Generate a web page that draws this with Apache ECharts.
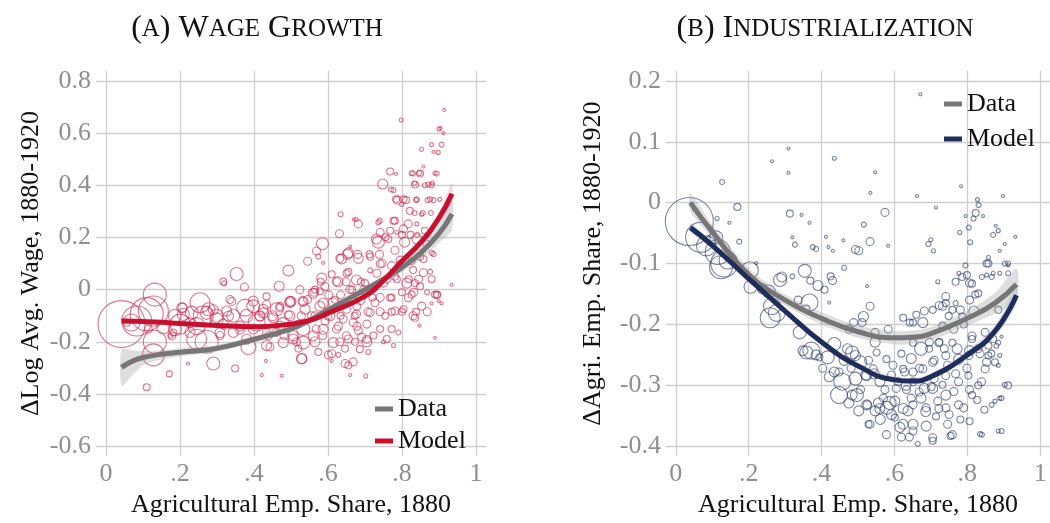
<!DOCTYPE html>
<html><head><meta charset="utf-8">
<script src="https://cdn.jsdelivr.net/npm/echarts@6/dist/echarts.min.js"></script>
<style>html,body{margin:0;padding:0;background:#fff}#c{width:1050px;height:523px}</style>
</head><body><div id="c"></div>
<script>
// ---------- tick values and labels ----------
const xTicks = [0, 0.2, 0.4, 0.6, 0.8, 1];
const xTickLabels = ['0', '.2', '.4', '.6', '.8', '1'];
const yTicksA = [-0.6, -0.4, -0.2, 0, 0.2, 0.4, 0.6, 0.8];
const yTickLabelsA = ['-0.6', '-0.4', '-0.2', '0', '0.2', '0.4', '0.6', '0.8'];
const yTicksB = [-0.4, -0.3, -0.2, -0.1, 0, 0.1, 0.2];
const yTickLabelsB = ['-0.4', '-0.3', '-0.2', '-0.1', '0', '0.1', '0.2'];

// ---------- panel A fitted curves ----------
const curveXA = [0.042, 0.07, 0.1, 0.15, 0.2, 0.3, 0.4, 0.5, 0.55, 0.6, 0.7, 0.75, 0.8, 0.85, 0.9, 0.935];
const dataA   = [-0.298, -0.275, -0.26, -0.248, -0.24, -0.225, -0.19, -0.15, -0.118, -0.078, 0.0, 0.04, 0.085, 0.14, 0.215, 0.29];
const dataALo = [-0.37, -0.33, -0.29, -0.268, -0.256, -0.238, -0.202, -0.162, -0.13, -0.09, -0.013, 0.025, 0.068, 0.115, 0.18, 0.23];
const dataAHi = [-0.23, -0.232, -0.235, -0.232, -0.225, -0.212, -0.178, -0.138, -0.106, -0.066, 0.013, 0.055, 0.102, 0.165, 0.25, 0.35];
const modelA   = [-0.12, -0.121, -0.122, -0.125, -0.13, -0.137, -0.142, -0.132, -0.118, -0.09, -0.025, 0.035, 0.11, 0.18, 0.275, 0.368];
const modelALo = [-0.13, -0.129, -0.129, -0.131, -0.136, -0.142, -0.147, -0.137, -0.123, -0.095, -0.03, 0.028, 0.1, 0.165, 0.255, 0.33];
const modelAHi = [-0.11, -0.113, -0.115, -0.119, -0.124, -0.132, -0.137, -0.127, -0.113, -0.085, -0.02, 0.042, 0.12, 0.195, 0.295, 0.41];

// ---------- panel B fitted curves ----------
const curveXB = [0.04, 0.1, 0.2, 0.3, 0.4, 0.5, 0.6, 0.65, 0.7, 0.8, 0.876, 0.935];
const dataB   = [0.0, -0.048, -0.118, -0.16, -0.19, -0.212, -0.222, -0.221, -0.215, -0.19, -0.165, -0.134];
const dataBLo = [-0.014, -0.058, -0.127, -0.169, -0.2, -0.222, -0.233, -0.232, -0.226, -0.202, -0.182, -0.16];
const dataBHi = [0.015, -0.036, -0.108, -0.151, -0.18, -0.202, -0.211, -0.21, -0.204, -0.178, -0.148, -0.108];
const modelB   = [-0.041, -0.07, -0.125, -0.178, -0.229, -0.268, -0.291, -0.293, -0.286, -0.25, -0.211, -0.152];
const modelBLo = [-0.048, -0.076, -0.13, -0.183, -0.234, -0.273, -0.296, -0.298, -0.292, -0.257, -0.221, -0.168];
const modelBHi = [-0.034, -0.064, -0.12, -0.173, -0.224, -0.263, -0.286, -0.288, -0.28, -0.243, -0.201, -0.136];

// ---------- panel A counties: [agri share, dlog wage, bubble size] ----------
const ptsA = [
[0.042,-0.132,47],[0.083,-0.12,30],[0.11,-0.094,33],[0.132,-0.019,23],[0.128,-0.082,30],[0.128,-0.25,22],
[0.132,-0.2,23],[0.11,-0.374,7],[0.171,-0.323,6],[0.175,-0.176,5],[0.2,-0.132,20],[0.207,-0.069,9],
[0.222,-0.283,3],[0.254,-0.05,20],[0.245,-0.19,20],[0.272,-0.2,23],[0.263,-0.1,20],[0.29,-0.283,13],
[0.277,-0.075,13],[0.317,0.031,7],[0.353,0.06,13],[0.374,0.01,8],[0.335,-0.038,8],[0.344,-0.1,13],
[0.349,-0.302,7],[0.376,-0.069,17],[0.385,-0.22,15],[0.398,-0.044,10],[0.407,-0.126,17],[0.421,-0.327,3],
[0.432,-0.273,3],[0.434,-0.214,10],[0.425,-0.075,10],[0.461,-0.075,13],[0.468,0.013,10],[0.475,-0.33,3],
[0.493,0.073,11],[0.479,-0.132,13],[0.497,-0.1,10],[0.506,-0.189,10],[0.529,-0.264,10],[0.533,-0.151,13],
[0.545,0.109,8],[0.565,0.0,7],[0.569,0.148,8],[0.585,0.176,12],[0.583,0.044,10],[0.578,-0.063,10],
[0.565,-0.2,10],[0.601,-0.25,8],[0.61,-0.273,3],[0.605,-0.1,10],[0.631,0.214,8],[0.634,0.289,5],
[0.632,0.12,8],[0.65,0.063,7],[0.655,0.141,10],[0.646,-0.283,8],[0.66,-0.327,3],[0.67,0.27,3],
[0.682,0.252,8],[0.682,0.12,10],[0.668,-0.277,8],[0.702,-0.331,4],[0.709,-0.239,5],[0.705,-0.2,10],
[0.714,0.126,7],[0.736,0.258,5],[0.736,0.182,12],[0.748,0.405,10],[0.768,0.453,7],[0.77,0.384,5],
[0.784,0.444,3],[0.798,0.65,4],[0.784,0.346,7],[0.804,0.346,7],[0.777,0.264,7],[0.817,0.252,8],
[0.826,0.447,5],[0.835,0.403,7],[0.84,0.346,5],[0.853,0.538,4],[0.858,0.472,3],[0.847,0.447,5],
[0.871,0.403,5],[0.876,0.346,5],[0.88,0.556,4],[0.885,0.528,3],[0.898,0.526,4],[0.889,0.447,4],
[0.9,0.616,4],[0.907,0.556,5],[0.912,0.6,3],[0.914,0.689,3],[0.904,0.619,3],[0.882,0.409,4],
[0.902,0.346,4],[0.934,0.019,3],[0.889,-0.019,7],[0.899,-0.044,3],[0.889,-0.185,3],[0.853,-0.063,8],
[0.847,-0.138,3],[0.83,-0.1,8],[0.88,0.141,5],[0.876,0.069,5],[0.858,0.065,8],[0.849,0.013,7],
[0.817,-0.031,8],[0.813,0.025,10],[0.795,0.113,8],[0.807,0.182,10],[0.84,0.195,10],[0.849,0.126,7],
[0.83,0.075,7],[0.781,0.151,8],[0.781,0.05,7],[0.772,-0.031,7],[0.781,-0.082,8],[0.772,-0.151,7],
[0.759,-0.189,7],[0.75,0.025,8],[0.746,0.101,8],[0.732,0.063,8],[0.723,0.006,8],[0.727,-0.05,8],
[0.714,-0.088,8],[0.705,-0.132,8],[0.7,0.025,7],[0.687,-0.038,10],[0.677,-0.094,8],[0.682,-0.157,8],
[0.691,-0.182,8],[0.668,-0.126,8],[0.659,0.0,8],[0.65,-0.075,8],[0.641,-0.113,8],[0.655,-0.189,8],
[0.632,-0.2,8],[0.623,-0.151,8],[0.623,0.031,8],[0.614,-0.05,10],[0.592,-0.12,8],[0.586,-0.176,8],
[0.568,-0.151,8],[0.556,-0.1,8],[0.545,-0.038,8],[0.538,-0.075,10],[0.52,-0.132,8],[0.515,-0.2,8],
[0.497,-0.05,10],[0.481,-0.176,8],[0.459,-0.164,8],[0.45,-0.1,10],[0.443,-0.22,8],[0.434,-0.057,8],
[0.416,-0.1,10],[0.398,-0.151,10],[0.38,-0.1,13],[0.362,-0.151,10],[0.344,-0.164,10],[0.326,-0.082,10],
[0.317,-0.132,10],[0.308,-0.176,8],[0.299,-0.1,13],[0.232,-0.088,13],[0.227,-0.164,10],[0.186,-0.1,13],
[0.155,-0.145,13],[0.182,-0.164,7],[0.114,-0.151,8],[0.069,-0.126,17],[0.804,0.233,8],[0.821,0.302,7],
[0.768,0.226,7],[0.755,0.201,7],[0.835,0.025,7],[0.826,-0.019,7],[0.804,-0.075,7],[0.79,-0.164,5],
[0.741,-0.151,7],[0.755,-0.1,7],[0.723,-0.176,7],[0.673,-0.2,7],[0.646,-0.226,7],[0.628,-0.25,5],
[0.574,-0.239,7],[0.52,-0.226,7],[0.578,-0.006,7],[0.524,0.0,8],[0.777,-0.214,4],[0.75,-0.2,4],
[0.786,0.22,4],[0.862,0.226,7],[0.866,0.176,7],[0.799,0.327,4],[0.853,0.289,4],[0.84,0.252,4],
[0.676,0.269,4],[0.777,0.382,5],[0.83,0.445,5],[0.849,0.445,7],[0.894,0.445,5],[0.834,0.408,4],
[0.862,0.4,5],[0.88,0.4,5],[0.788,0.343,8],[0.811,0.343,7],[0.838,0.343,5],[0.869,0.343,5],
[0.885,0.343,5],[0.834,0.294,5],[0.856,0.294,5],[0.878,0.294,5],[0.781,0.264,7],[0.74,0.264,5],
[0.741,0.219,8],[0.731,0.194,10],[0.763,0.194,7],[0.8,0.21,7],[0.823,0.21,7],[0.841,0.21,5],
[0.868,0.21,5],[0.653,0.135,10],[0.68,0.135,8],[0.712,0.135,7],[0.739,0.135,8],[0.637,0.118,10],
[0.66,0.165,3],[0.587,0.103,3],[0.574,0.127,5],[0.61,0.059,7],[0.655,0.068,7],[0.677,0.037,10],
[0.714,0.074,5],[0.741,0.098,8],[0.772,0.092,8],[0.795,0.098,7],[0.826,0.11,7],[0.858,0.117,7],
[0.885,0.136,5],[0.759,0.04,8],[0.786,0.04,7],[0.818,0.04,7],[0.845,0.04,8],[0.88,0.04,7],
[0.8,-0.01,7],[0.832,-0.01,8],[0.868,-0.01,5],[0.895,-0.02,7],[0.741,-0.03,8],[0.768,-0.03,7],
[0.627,0.03,10],[0.649,0.03,8],[0.689,0.03,7],[0.58,0.03,7],[0.562,-0.01,8],[0.602,-0.02,8],
[0.634,-0.02,8],[0.665,0.0,7],[0.697,0.0,8],[0.72,-0.03,7],[0.5,-0.045,10],[0.532,-0.045,8],
[0.47,-0.07,8],[0.587,-0.052,10],[0.619,-0.039,7],[0.65,-0.052,7],[0.678,-0.064,8],[0.708,-0.085,8],
[0.741,-0.085,8],[0.772,-0.085,7],[0.8,-0.085,7],[0.838,-0.085,7],[0.868,-0.085,8],[0.528,-0.1,8],
[0.565,-0.1,8],[0.6,-0.1,8],[0.634,-0.1,7],[0.672,-0.1,7],[0.835,-0.108,7],[0.88,-0.052,3],
[0.907,-0.052,3],[0.894,-0.02,7],[0.493,-0.096,8],
[0.205,-0.07,10],[0.209,-0.095,12],[0.272,-0.089,13],[0.245,-0.14,17],[0.29,-0.077,10],[0.34,-0.045,8],
[0.319,0.024,5],[0.331,-0.102,10],[0.362,-0.14,10],[0.38,-0.19,10],[0.398,-0.064,13],[0.416,-0.102,10],
[0.434,-0.165,8],[0.186,-0.152,13],[0.178,-0.177,8],[0.056,-0.127,7],[0.227,-0.127,10],[0.308,-0.165,10],
[0.299,-0.114,13],[0.425,-0.089,10],[0.452,-0.108,10],[0.47,-0.14,10],[0.439,-0.177,8],[0.479,-0.203,10],
[0.506,-0.177,10],[0.533,-0.203,13],[0.529,-0.265,10],[0.56,-0.177,10],[0.587,-0.152,10],[0.614,-0.203,10],
[0.61,-0.246,8],[0.628,-0.14,8],[0.65,-0.177,8],[0.678,-0.14,8],[0.705,-0.19,8],[0.686,-0.228,7],
[0.655,-0.29,7],[0.497,-0.045,10],[0.533,-0.045,10],[0.56,-0.014,10],[0.592,0.011,8],[0.47,-0.064,8],
[0.434,-0.026,7]
];

// ---------- panel B counties: [agri share, d agri share, bubble size] ----------
const ptsB = [
[0.037,-0.031,48],[0.068,-0.057,30],[0.084,-0.071,20],[0.115,-0.081,25],[0.133,-0.1,27],[0.124,-0.106,23],
[0.142,-0.095,17],[0.111,-0.057,13],[0.113,-0.026,4],[0.052,-0.011,4],[0.127,0.034,5],[0.169,-0.007,7],
[0.147,-0.033,3],[0.174,-0.064,5],[0.203,-0.111,17],[0.205,-0.138,13],[0.221,-0.099,3],[0.237,-0.141,10],
[0.255,-0.146,13],[0.264,-0.17,17],[0.259,-0.189,20],[0.277,-0.181,17],[0.286,-0.127,13],[0.309,0.089,3],
[0.264,0.068,3],[0.309,0.049,3],[0.313,-0.018,7],[0.32,-0.057,3],[0.327,-0.069,5],[0.345,-0.02,3],
[0.367,-0.033,3],[0.435,0.073,4],[0.547,0.05,3],[0.534,0.016,3],[0.574,-0.016,8],[0.516,-0.036,5],
[0.533,-0.064,8],[0.583,-0.071,3],[0.493,-0.077,8],[0.502,-0.079,8],[0.412,-0.056,3],[0.419,-0.073,3],
[0.431,-0.079,3],[0.376,-0.073,5],[0.385,-0.076,5],[0.462,-0.107,5],[0.354,-0.112,13],[0.291,-0.122,10],
[0.32,-0.121,5],[0.369,-0.128,7],[0.39,-0.136,10],[0.408,-0.143,7],[0.425,-0.121,7],[0.43,-0.128,8],
[0.367,-0.164,17],[0.421,-0.164,3],[0.336,-0.16,8],[0.358,-0.174,7],[0.34,-0.213,13],[0.349,-0.243,10],
[0.358,-0.246,13],[0.372,-0.243,17],[0.385,-0.25,10],[0.394,-0.254,7],[0.417,-0.254,13],[0.435,-0.232,13],
[0.471,-0.24,10],[0.475,-0.208,8],[0.462,-0.259,10],[0.481,-0.272,8],[0.457,-0.294,17],[0.493,-0.289,13],
[0.448,-0.316,17],[0.475,-0.329,10],[0.507,-0.307,8],[0.521,-0.283,10],[0.529,-0.259,8],[0.544,-0.281,10],
[0.529,-0.364,7],[0.556,-0.329,10],[0.561,-0.356,10],[0.579,-0.337,13],[0.592,-0.348,10],[0.574,-0.307,8],
[0.592,-0.283,8],[0.601,-0.326,10],[0.615,-0.369,10],[0.619,-0.385,8],[0.641,-0.385,8],[0.651,-0.364,10],
[0.664,-0.396,5],[0.637,-0.342,10],[0.633,-0.307,8],[0.628,-0.278,8],[0.619,-0.248,7],[0.646,-0.256,10],
[0.673,-0.24,13],[0.669,-0.272,8],[0.682,-0.305,10],[0.687,-0.337,8],[0.687,-0.367,10],[0.705,-0.391,7],
[0.714,-0.351,7],[0.719,-0.326,8],[0.709,-0.289,8],[0.709,-0.259,8],[0.696,-0.229,8],[0.682,-0.178,8],
[0.66,-0.184,7],[0.624,-0.189,7],[0.642,-0.197,7],[0.723,-0.229,7],[0.737,-0.24,8],[0.746,-0.267,8],
[0.732,-0.299,7],[0.741,-0.337,8],[0.754,-0.383,7],[0.763,-0.31,8],[0.768,-0.281,8],[0.772,-0.24,10],
[0.763,-0.208,8],[0.749,-0.186,7],[0.723,-0.169,8],[0.741,-0.165,7],[0.732,-0.202,7],[0.79,-0.2,7],
[0.781,-0.176,8],[0.768,-0.13,7],[0.799,-0.119,7],[0.795,-0.103,5],[0.777,-0.116,4],[0.806,-0.132,8],
[0.806,-0.16,8],[0.822,-0.151,7],[0.818,-0.178,10],[0.813,-0.219,8],[0.806,-0.243,10],[0.799,-0.272,8],
[0.806,-0.307,8],[0.79,-0.337,8],[0.781,-0.356,7],[0.806,-0.359,7],[0.835,-0.38,5],[0.827,-0.324,7],
[0.847,-0.34,7],[0.839,-0.294,8],[0.853,-0.262,8],[0.835,-0.248,8],[0.849,-0.213,8],[0.858,-0.235,7],
[0.871,-0.224,7],[0.866,-0.248,7],[0.88,-0.235,5],[0.889,-0.251,4],[0.885,-0.267,4],[0.903,-0.299,5],
[0.889,-0.321,4],[0.876,-0.326,4],[0.885,-0.375,4],[0.853,-0.1,7],[0.858,-0.09,4],[0.853,-0.119,4],
[0.871,-0.116,4],[0.889,-0.116,4],[0.903,-0.1,5],[0.912,-0.103,3],[0.903,-0.068,3],[0.889,-0.079,3],
[0.871,-0.053,5],[0.885,-0.046,4],[0.878,-0.038,3],[0.898,0.011,3],[0.932,-0.056,3],[0.828,0.005,4],
[0.831,-0.004,5],[0.823,-0.017,7],[0.817,-0.026,5],[0.843,-0.022,3],[0.795,-0.022,3],[0.804,-0.041,5],
[0.779,-0.049,4],[0.808,-0.065,5],[0.783,0.027,3],[0.714,-0.008,3],[0.662,0.011,3],[0.671,0.178,3],
[0.7,-0.061,4],[0.693,-0.068,5],[0.707,-0.079,4],[0.719,-0.13,4],[0.525,-0.137,3],[0.46,-0.062,3],
[0.583,-0.208,8],[0.547,-0.229,10],[0.511,-0.197,8],[0.493,-0.251,10],[0.547,-0.213,8],[0.57,-0.321,8],
[0.601,-0.353,7],[0.547,-0.342,10],[0.673,-0.321,10],[0.646,-0.321,8],[0.421,-0.286,10],[0.403,-0.272,8],
[0.435,-0.278,10],[0.448,-0.278,8],[0.484,-0.316,10],[0.502,-0.342,10],[0.525,-0.332,8],[0.746,-0.364,8],
[0.701,-0.302,8],[0.651,-0.294,8],[0.61,-0.294,8],
[0.484,-0.246,13],[0.506,-0.262,13],[0.524,-0.284,10],[0.542,-0.273,8],[0.56,-0.294,10],[0.497,-0.316,13],
[0.524,-0.332,10],[0.56,-0.338,10],[0.587,-0.329,13],[0.624,-0.338,10],[0.651,-0.332,8],[0.686,-0.343,10],
[0.722,-0.338,8],[0.75,-0.348,8],[0.741,-0.316,10],[0.776,-0.332,8],[0.813,-0.316,7],[0.624,-0.364,10],
[0.651,-0.375,8],[0.605,-0.305,8],[0.632,-0.3,10],[0.668,-0.311,8],[0.705,-0.305,10],[0.741,-0.284,8],
[0.776,-0.294,8],[0.803,-0.284,7],[0.83,-0.3,7],[0.849,-0.273,8],[0.858,-0.251,7],[0.876,-0.262,7],
[0.885,-0.23,5],[0.894,-0.22,3],[0.83,-0.24,8],[0.804,-0.251,8],[0.776,-0.257,10],[0.741,-0.251,8],
[0.705,-0.262,8],[0.678,-0.273,8],[0.651,-0.278,8],[0.624,-0.273,7],[0.596,-0.267,8],[0.578,-0.257,7],
[0.551,-0.246,7],[0.695,-0.24,7],[0.651,-0.23,7],[0.722,-0.23,8],[0.759,-0.23,7],[0.813,-0.224,7],
[0.678,-0.197,10],[0.651,-0.197,7],[0.732,-0.17,8],[0.759,-0.176,7],[0.786,-0.187,7],[0.705,-0.176,7],
[0.515,-0.187,10],[0.533,-0.17,8],[0.488,-0.197,8],[0.578,-0.381,8],[0.533,-0.364,8],[0.705,-0.386,8],
[0.759,-0.381,8],[0.84,-0.381,5],[0.894,-0.375,5],[0.912,-0.3,7],[0.894,-0.321,5],[0.867,-0.332,5],
[0.786,-0.122,7],[0.813,-0.133,7],[0.84,-0.122,5],[0.867,-0.122,5],[0.858,-0.1,7],[0.912,-0.1,5],
[0.912,-0.116,5],[0.741,-0.154,8],[0.768,-0.165,5],[0.83,-0.149,7],[0.885,-0.176,7]
];

// ---------- build ----------
const FONT = '"Liberation Serif", "Times New Roman", serif';
const GRID_COL = '#cfcfcf';
const GRAY = '#767676';
const RED = '#c8102e';
const NAVY = '#1f2d5a';

function pairs(xs, ys) { return xs.map((x, i) => [x, ys[i]]); }
function lab(ticks, labels) {
  return function (v) {
    for (let i = 0; i < ticks.length; i++) if (Math.abs(ticks[i] - v) < 1e-6) return labels[i];
    return '';
  };
}

function xAxisCfg(gi) {
  return {
    type: 'value', gridIndex: gi, min: -0.027, max: 1.027,
    name: 'Agricultural Emp. Share, 1880', nameLocation: 'middle', nameGap: 31,
    nameTextStyle: { fontFamily: FONT, fontSize: 26, color: '#111' },
    axisLine: { show: false },
    axisTick: { show: false, customValues: xTicks },
    axisLabel: { customValues: xTicks, formatter: lab(xTicks, xTickLabels), fontFamily: FONT, fontSize: 26, color: '#8f8f8f', margin: 5 },
    splitLine: { show: true, lineStyle: { color: GRID_COL, width: 1.3 } }
  };
}
function yAxisCfg(gi, min, max, ticks, labels, name, gap) {
  return {
    type: 'value', gridIndex: gi, min: min, max: max,
    name: name, nameLocation: 'middle', nameGap: gap, nameRotate: 90,
    nameTextStyle: { fontFamily: FONT, fontSize: 26, color: '#111' },
    axisLine: { show: false },
    axisTick: { show: false, customValues: ticks },
    axisLabel: { customValues: ticks, formatter: lab(ticks, labels), fontFamily: FONT, fontSize: 26, color: '#8f8f8f', margin: 5 },
    splitLine: { show: true, lineStyle: { color: GRID_COL, width: 1.3 } }
  };
}

// confidence band drawn as a polygon through the axis scales
function band(idx, xs, lo, hi, color) {
  return {
    type: 'custom', xAxisIndex: idx, yAxisIndex: idx, silent: true, z: 3,
    data: xs.map((x, i) => [x, lo[i], hi[i]]),
    encode: { x: 0, y: [1, 2] },
    renderItem: function (params, api) {
      if (params.dataIndex !== 0) return null;
      const top = xs.map((x, i) => api.coord([x, hi[i]]));
      const bot = xs.map((x, i) => api.coord([x, lo[i]])).reverse();
      return { type: 'polygon', shape: { points: top.concat(bot), smooth: 0.25 }, style: { fill: color } };
    }
  };
}

const series = [];
series.push({ type: 'scatter', name: 'ptsA', xAxisIndex: 0, yAxisIndex: 0, data: ptsA,
  symbolSize: d => d[2], itemStyle: { color: 'rgba(0,0,0,0)', borderColor: 'rgba(205,40,80,0.8)', borderWidth: 1.1 }, z: 2 });
series.push({ type: 'scatter', name: 'ptsB', xAxisIndex: 1, yAxisIndex: 1, data: ptsB,
  symbolSize: d => d[2], itemStyle: { color: 'rgba(0,0,0,0)', borderColor: 'rgba(45,60,105,0.78)', borderWidth: 1.1 }, z: 2 });
series.push(band(0, curveXA, dataALo, dataAHi, 'rgba(160,160,160,0.35)'));
series.push(band(0, curveXA, modelALo, modelAHi, 'rgba(225,140,160,0.3)'));
series.push(band(1, curveXB, dataBLo, dataBHi, 'rgba(160,160,160,0.35)'));
series.push(band(1, curveXB, modelBLo, modelBHi, 'rgba(160,170,190,0.3)'));
series.push({ type: 'line', name: 'Data', xAxisIndex: 0, yAxisIndex: 0, data: pairs(curveXA, dataA), smooth: true, symbol: 'none',
  lineStyle: { color: GRAY, width: 5 }, itemStyle: { color: GRAY }, z: 5 });
series.push({ type: 'line', name: 'Model', xAxisIndex: 0, yAxisIndex: 0, data: pairs(curveXA, modelA), smooth: true, symbol: 'none',
  lineStyle: { color: RED, width: 5 }, itemStyle: { color: RED }, z: 6 });
series.push({ type: 'line', name: 'Data B', xAxisIndex: 1, yAxisIndex: 1, data: pairs(curveXB, dataB), smooth: true, symbol: 'none',
  lineStyle: { color: GRAY, width: 5 }, itemStyle: { color: GRAY }, z: 5 });
series.push({ type: 'line', name: 'Model B', xAxisIndex: 1, yAxisIndex: 1, data: pairs(curveXB, modelB), smooth: true, symbol: 'none',
  lineStyle: { color: NAVY, width: 5 }, itemStyle: { color: NAVY }, z: 6 });

const titleRich = {
  b: { fontFamily: FONT, fontSize: 32, fontWeight: 'normal', color: '#111' },
  s: { fontFamily: FONT, fontSize: 25, fontWeight: 'normal', color: '#111' }
};

const option = {
  animation: false,
  backgroundColor: '#fff',
  title: [
    { text: '{b|(}{s|A}{b|) W}{s|AGE}{b| G}{s|ROWTH}', left: 252, top: 8, textAlign: 'center', textStyle: { fontWeight: 'normal', rich: titleRich } },
    { text: '{b|(}{s|B}{b|) I}{s|NDUSTRIALIZATION}', left: 820, top: 8, textAlign: 'center', textStyle: { fontWeight: 'normal', rich: titleRich } }
  ],
  grid: [
    { left: 96, top: 71, width: 390, height: 391 },
    { left: 666, top: 71, width: 390, height: 391 }
  ],
  xAxis: [xAxisCfg(0), xAxisCfg(1)],
  yAxis: [
    yAxisCfg(0, -0.638, 0.838, yTicksA, yTickLabelsA, '\u0394Log Avg. Wage, 1880-1920', 52),
    yAxisCfg(1, -0.4162, 0.2162, yTicksB, yTickLabelsB, '\u0394Agri. Emp. Share, 1880-1920', 60)
  ],
  legend: [
    { data: ['Data', 'Model'], orient: 'vertical', left: 370, top: 391, icon: 'rect', itemWidth: 18, itemHeight: 5,
      itemGap: 6, textStyle: { fontFamily: FONT, fontSize: 26, color: '#111', lineHeight: 26 }, selectedMode: false },
    { data: ['Data B', 'Model B'], orient: 'vertical', left: 939, top: 86, icon: 'rect', itemWidth: 18, itemHeight: 5,
      itemGap: 9, formatter: n => n.split(' ')[0], textStyle: { fontFamily: FONT, fontSize: 26, color: '#111', lineHeight: 26 }, selectedMode: false }
  ],
  series: series
};

const chart = echarts.init(document.getElementById('c'), null, { renderer: 'canvas' });
chart.setOption(option);
</script>
</body></html>
